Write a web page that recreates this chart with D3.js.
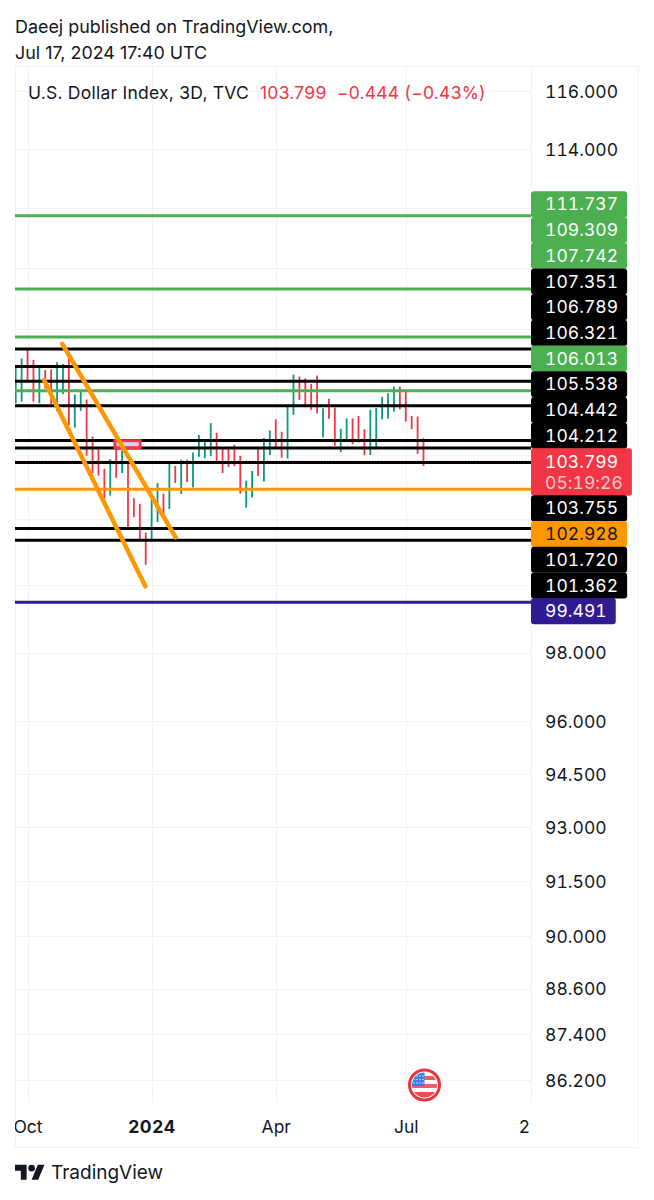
<!DOCTYPE html>
<html><head><meta charset="utf-8">
<script src="https://cdnjs.cloudflare.com/ajax/libs/d3/7.9.0/d3.min.js"></script>
<style>html,body{margin:0;padding:0;background:#fff}svg{display:block}text{font-family:Inter,"Noto Sans",sans-serif}.num{font-variant-numeric:tabular-nums;letter-spacing:.05px}</style>
</head><body><svg id="c" width="654" height="1200"></svg>
<script>
const barHighs=[106.84,107.05,107.32,107.0,106.77,106.68,106.70,106.93,106.87,107.05,105.90,105.99,105.74,104.57,104.17,103.56,103.86,104.44,104.13,103.79,102.65,102.48,101.60,102.60,103.12,102.79,103.72,103.65,103.84,103.84,104.07,104.62,104.41,104.99,104.69,104.20,104.20,104.31,103.96,103.19,103.49,104.20,104.52,104.76,105.11,104.72,105.51,106.53,106.47,106.41,106.23,106.50,105.46,105.76,105.48,104.81,105.14,105.14,105.22,104.80,105.41,105.47,105.82,105.94,106.15,106.15,105.99,105.22,105.20,104.52];
const barLows=[105.62,105.67,106.36,105.67,105.62,106.09,105.59,105.37,105.91,104.93,104.85,105.38,103.97,103.43,103.35,102.65,102.73,103.28,103.43,101.76,102.07,101.39,100.62,101.39,101.92,102.16,102.32,103.12,102.78,103.15,102.98,103.94,103.89,103.96,103.79,103.43,103.62,103.65,102.79,102.36,102.67,103.34,103.17,103.99,104.23,103.91,103.88,105.25,105.72,105.56,105.41,105.30,104.54,105.13,104.28,104.08,104.46,104.33,104.39,103.99,103.99,104.23,105.11,105.14,105.35,105.43,105.04,104.80,104.03,103.65];
const barDirections=["u","u","d","d","u","d","d","u","u","d","u","u","d","d","d","d","u","d","u","d","d","d","d","u","u","d","u","d","u","d","u","u","u","u","d","d","d","d","d","u","u","d","u","u","d","d","u","u","d","d","d","d","u","d","d","u","u","d","d","d","u","u","u","u","u","d","d","d","d","d"];
const greenLevels=[111.737,109.309,107.742,106.013];
const blackLevels=[107.351,106.789,106.321,105.538,104.442,104.212,103.755,101.720,101.362];
const orangeLevels=[102.928];
const indigoLevels=[99.491];
const lastPrice=103.799;
const countdown="05:19:26";
const priceTicks=[116,114,98,96,94.5,93,91.5,90,88.6,87.4,86.2];
const unlabelledGrid=[112,110,108,106,104,102,100];
const timeTickIndex=[2,23,44,66];
const timeTickLabels=["Oct","2024","Apr","Jul"];
const partialTickIndex=[86];
const partialTickLabels=["2"];
const trendA=[[7.88,107.52],[27.07,101.45]];
const trendB=[[4.79,106.36],[21.93,99.97]];
const boxIdx=[16.8,21.05];
const boxPrice=[104.44,104.22];

const svg=d3.select("#c");
const L=15,R=531,RR=638,T=66,G=1103,B=1147;
const y=d3.scaleLog().domain([116,86.2]).range([91,1080]);
const x=d3.scaleLinear().domain([0,87]).range([15.7,15.7+87*5.91]);
const INK="#131722",GRID="#f0f3fa",RED="#f23645",TEAL="#089981",GREEN="#4caf50",ORANGE="#ff9800",INDIGO="#311b92";

const defs=svg.append("defs");
defs.append("clipPath").attr("id","plot").append("rect").attr("x",L).attr("y",T).attr("width",R-L).attr("height",B-T);

// frame
svg.append("rect").attr("x",L+.5).attr("y",T+.5).attr("width",RR-L).attr("height",B-T).attr("fill","none").attr("stroke",GRID);
svg.append("line").attr("x1",R+.5).attr("x2",R+.5).attr("y1",T).attr("y2",G).attr("stroke",GRID);

// grid
const plot=svg.append("g").attr("clip-path","url(#plot)");
plot.selectAll("line.gh").data(priceTicks.concat(unlabelledGrid)).join("line").attr("class","gh")
 .attr("x1",L).attr("x2",R).attr("y1",d=>Math.round(y(d))+.5).attr("y2",d=>Math.round(y(d))+.5).attr("stroke",GRID);
plot.selectAll("line.gv").data(timeTickIndex).join("line").attr("class","gv")
 .attr("x1",d=>Math.round(x(d))+.5).attr("x2",d=>Math.round(x(d))+.5).attr("y1",T).attr("y2",G).attr("stroke",GRID);

// price axis (labelled ticks)
const ax=d3.axisRight(y).tickValues(priceTicks).tickSize(0).tickPadding(0).tickFormat(d3.format(".3f"));
const axG=svg.append("g").attr("transform","translate(545,0)").call(ax);
axG.select(".domain").remove();
axG.selectAll("text").attr("class","num").attr("fill",INK).attr("font-size",17.5).attr("dy","0.36em");

// time axis
const tx=svg.append("g").attr("clip-path","url(#plot)");
const txAxis=d3.axisBottom(x).tickValues(timeTickIndex.concat(partialTickIndex)).tickSize(0).tickPadding(0)
 .tickFormat(d=>{const i=timeTickIndex.indexOf(d);return i>=0?timeTickLabels[i]:partialTickLabels[partialTickIndex.indexOf(d)];});
const txG=tx.append("g").attr("transform","translate(0,1127)").call(txAxis);
txG.select(".domain").remove();
txG.selectAll("text").attr("fill",INK).attr("font-size",17.5).attr("dy","0.36em")
 .attr("font-weight",d=>d===23?700:400).attr("letter-spacing",d=>d===23?"0.6":null);

// last price dotted
plot.append("line").attr("x1",L).attr("x2",R).attr("y1",y(lastPrice)).attr("y2",y(lastPrice)).attr("stroke",RED).attr("stroke-dasharray","1 2");

// bars
plot.selectAll("line.bar").data(barHighs).join("line").attr("class","bar")
 .attr("x1",(d,i)=>x(i)).attr("x2",(d,i)=>x(i)).attr("y1",d=>y(d)).attr("y2",(d,i)=>y(barLows[i]))
 .attr("stroke",(d,i)=>barDirections[i]==="u"?TEAL:RED).attr("stroke-width",1.8);

// levels
const colorOf=p=>greenLevels.includes(p)?GREEN:orangeLevels.includes(p)?ORANGE:indigoLevels.includes(p)?INDIGO:"#000000";
const levels=[...greenLevels,...blackLevels,...orangeLevels,...indigoLevels].sort(d3.descending);
plot.selectAll("line.lv").data(levels).join("line").attr("class","lv")
 .attr("x1",L).attr("x2",R).attr("y1",d=>y(d)).attr("y2",d=>y(d)).attr("stroke",colorOf).attr("stroke-width",3);

// box
plot.append("rect").attr("x",x(boxIdx[0])).attr("width",x(boxIdx[1])-x(boxIdx[0])).attr("y",y(boxPrice[0])).attr("height",y(boxPrice[1])-y(boxPrice[0]))
 .attr("fill","#d1d4f9").attr("stroke",RED).attr("stroke-width",3);

// trendlines
const ln=d3.line().x(d=>x(d[0])).y(d=>y(d[1]));
plot.selectAll("path.tr").data([trendA,trendB]).join("path").attr("class","tr").attr("d",ln)
 .attr("fill","none").attr("stroke",ORANGE).attr("stroke-width",4.5).attr("stroke-linecap","round");

// price labels, stacked
const stack=[...levels,lastPrice].sort(d3.descending);
const fmt=d3.format(".3f");
const lab=svg.append("g");
let stackTop=191.3;
const H=25.7,TALL=47;
stack.forEach(p=>{
  const isLast=p===lastPrice, h=isLast?TALL:H;
  const col=isLast?RED:colorOf(p);
  const g=lab.append("g");
  const r=g.append("rect").attr("x",R).attr("y",stackTop).attr("height",h+.4).attr("rx",3).attr("fill",col);
  const tc=col===ORANGE?INK:"#ffffff";
  const t=g.append("text").attr("class","num").attr("x",545).attr("y",stackTop+(isLast?13:h/2)).attr("dy","0.36em").attr("font-size",17.5).attr("fill",tc).text(fmt(p));
  let w=t.node().getComputedTextLength();
  if(isLast){
    const t2=g.append("text").attr("class","num").attr("x",545).attr("y",stackTop+34.5).attr("dy","0.36em").attr("font-size",17.5).attr("fill","#ffffff").attr("fill-opacity",.72).text(countdown);
    w=t2.node().getComputedTextLength();
  }
  r.attr("width",14+w+9);
  stackTop+=h;
});

// header
svg.append("text").attr("x",15).attr("y",33).attr("font-size",17.9).attr("fill",INK).text("Daeej published on TradingView.com,");
svg.append("text").attr("x",15).attr("y",59).attr("font-size",17.9).attr("fill",INK).text("Jul 17, 2024 17:40 UTC");
svg.append("text").attr("x",28).attr("y",99).attr("font-size",17.5).attr("letter-spacing",.24).attr("fill",INK).text("U.S. Dollar Index, 3D, TVC");
svg.append("text").attr("x",260).attr("y",99).attr("font-size",17.5).attr("letter-spacing",.24).attr("fill",RED).style("white-space","pre").text(fmt(lastPrice)+"  \u22120.444 (\u22120.43%)");

// flag
const f=svg.append("g").attr("transform","translate(424.5,1085)");
defs.append("clipPath").attr("id","fl").append("circle").attr("r",12.5);
f.append("circle").attr("r",15).attr("fill","#fff").attr("stroke","#e8353f").attr("stroke-width",3);
const fg=f.append("g").attr("clip-path","url(#fl)");
fg.append("rect").attr("x",-13).attr("y",-13).attr("width",26).attr("height",26).attr("fill","#fff");
fg.selectAll("rect.st").data(d3.range(3)).join("rect").attr("class","st").attr("x",-13).attr("width",26).attr("y",d=>-9+d*8).attr("height",4).attr("fill","#f25c5c");
fg.append("rect").attr("x",-13).attr("y",7).attr("width",26).attr("height",7).attr("fill","#f04d4d");
fg.append("rect").attr("x",-13).attr("y",-13).attr("width",13).attr("height",14).attr("fill","#2f80ed");
fg.selectAll("circle.s").data(d3.range(12)).join("circle").attr("class","s").attr("cx",d=>-10.5+(d%4)*3).attr("cy",d=>-9+Math.floor(d/4)*3.5).attr("r",.7).attr("fill","#fff");

// logo
const lg=svg.append("g").attr("transform","translate(15,1161.5) scale(0.83)").attr("fill",INK);
lg.append("path").attr("d","M14 22H7V11H0V4h14v18zM28 22h-8l7.5-18h8L28 22z");
lg.append("circle").attr("cx",20).attr("cy",8).attr("r",4);
svg.append("text").attr("x",51).attr("y",1179).attr("font-size",19).attr("fill",INK).text("TradingView");
</script></body></html>
